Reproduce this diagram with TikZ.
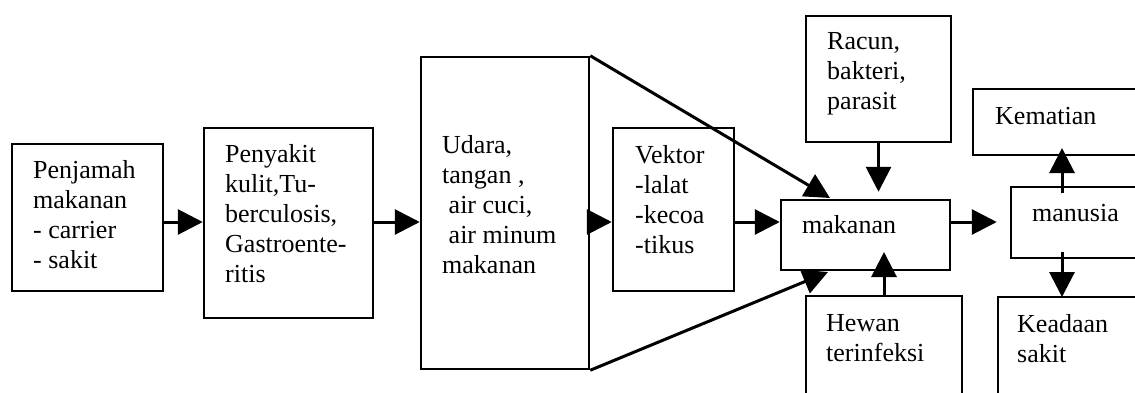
\documentclass[tikz,border=0pt]{standalone}
\usepackage{fontspec}
\setmainfont{Liberation Serif}
\usetikzlibrary{arrows.meta}
\tikzset{
  box/.style={draw, line width=2.5pt, inner sep=0pt, rectangle},
  tx/.style={anchor=north west, inner sep=0pt, align=left, font=\fontsize{26}{30}\selectfont},
  arr/.style={line width=3pt, -{Triangle[length=25pt,width=25pt]}},
}
\begin{document}
\begin{tikzpicture}[x=1pt,y=-1pt]
\useasboundingbox (0,0) rectangle (1135,392);
\clip (0,0) rectangle (1135,392);
% boxes
\node[box, minimum width=151, minimum height=147] (pj) at (87.5,217.5) {};
\node[box, minimum width=169, minimum height=190] (ps) at (288.5,223) {};
\node[box, minimum width=168, minimum height=312] (ud) at (505,213) {};
\node[box, minimum width=121, minimum height=163] (vk) at (673.5,209.5) {};
\node[box, minimum width=169, minimum height=70] (mk) at (865.5,235) {};
\node[box, minimum width=145, minimum height=126] (rc) at (878.5,79) {};
\node[box, minimum width=156, minimum height=124] (hw) at (884,358) {};
\node[box, minimum width=187, minimum height=66] (km) at (1066.5,122) {};
\node[box, minimum width=149, minimum height=71] (mn) at (1085.5,222.5) {};
\node[box, minimum width=162, minimum height=124] (kd) at (1079,359) {};
% texts
\node[tx] (tpj) at (33,160) {Penjamah\\makanan\\- carrier\\- sakit};
\node[tx] (tps) at (225,144) {Penyakit\\kulit,Tu-\\berculosis,\\Gastroente-\\ritis};
\node[tx] (tud) at (442,135) {Udara,\\tangan ,\\\hspace*{6.5pt}air cuci,\\\hspace*{6.5pt}air minum\\makanan};
\node[tx] (tvk) at (635,145) {Vektor\\-lalat\\-kecoa\\-tikus};
\node[tx] (tmk) at (802,215) {makanan};
\node[tx] (trc) at (827,32) {Racun,\\bakteri,\\parasit};
\node[tx] (thw) at (826,314) {Hewan\\terinfeksi};
\node[tx] (tkm) at (995,107) {Kematian};
\node[tx] (tmn) at (1032,204) {manusia};
\node[tx] (tkd) at (1017,314) {Keadaan\\sakit};
% helper coordinates
\coordinate (row) at (0,222);
\coordinate (ttip) at (830,198);
\coordinate (btip) at (828,272);
\coordinate (htip) at (884,252);
\coordinate (k1) at (1062,193);
\coordinate (k2) at (1062,148);
\coordinate (s1) at (1062,252);
\coordinate (s2) at (1062,297);
% connectors
\draw[arr] (pj.east |- row) -- (ps.west |- row);
\draw[arr] (ps.east |- row) -- (ud.west |- row);
\draw[arr] (ud.east |- row) -- (vk.west |- row);
\draw[arr] (vk.east |- row) -- (mk.west |- row);
\draw[arr, shorten >=13pt] (mk.east |- row) -- (mn.west |- row);
\draw[arr] (ud.north east) -- (ttip);
\draw[arr] (ud.south east) -- (btip);
\draw[arr, shorten >=7pt] (rc.south) -- (rc.south |- mk.north);
\draw[arr] (hw.north) -- (htip);
\draw[arr] (k1) -- (k2);
\draw[arr] (s1) -- (s2);
\end{tikzpicture}
\end{document}
